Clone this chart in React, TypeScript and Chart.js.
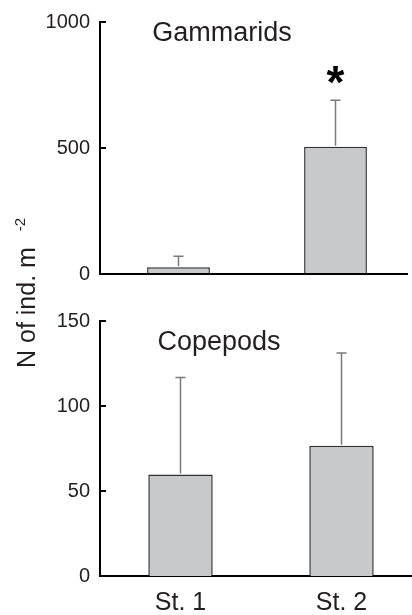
import React, { useEffect, useRef } from 'react';
import { Chart, registerables } from 'chart.js';

Chart.register(...registerables);

// ---------- data ----------
const stations = ['St. 1', 'St. 2'];

const gammaridMeans = [27, 505];
const gammaridErrors = [43, 184];
const gammaridMarks = ['', '*'];
const gammaridTicks = [0, 500, 1000];

const copepodMeans = [59.7, 76.6];
const copepodErrors = [57.1, 54.6];
const copepodMarks = ['', ''];
const copepodTicks = [0, 50, 100, 150];

const gammaridTitle = 'Gammarids';
const copepodTitle = 'Copepods';
const yTitleMain = 'N of ind. m';
const yTitleSup = '-2';

// ---------- styles ----------
const FONT = "'Liberation Sans', Arial, Helvetica, sans-serif";
const TEXT = '#231f20';
const BAR_FILL = '#c8c9cb';
const BAR_EDGE = '#303030';
const ERR = '#7a7a7a';

const decorPlugin = {
  id: 'panelDecor',
  afterDatasetsDraw(chart: any, _args: any, opts: any) {
    const ctx = chart.ctx as CanvasRenderingContext2D;
    const { left, top } = chart.chartArea;
    const ys = chart.scales.y;
    const meta = chart.getDatasetMeta(0);
    ctx.save();

    // zero baseline for panels without a visible x axis
    if (opts.baselineEnd) {
      const py = ys.getPixelForValue(0);
      ctx.strokeStyle = '#000';
      ctx.lineWidth = 2;
      ctx.beginPath();
      ctx.moveTo(left - 1, py);
      ctx.lineTo(opts.baselineEnd, py);
      ctx.stroke();
    }

    // inward tick marks
    ctx.strokeStyle = '#000';
    ctx.lineWidth = 2;
    (opts.ticks as number[]).forEach((v) => {
      if (v === 0) return;
      const py = ys.getPixelForValue(v);
      ctx.beginPath();
      ctx.moveTo(left - 1, py);
      ctx.lineTo(left + 6, py);
      ctx.stroke();
    });

    // error bars + significance marks
    meta.data.forEach((bar: any, i: number) => {
      const x = bar.x;
      const y0 = ys.getPixelForValue(opts.means[i]);
      const y1 = ys.getPixelForValue(opts.means[i] + opts.errors[i]);
      ctx.strokeStyle = ERR;
      ctx.lineWidth = 1.5;
      ctx.beginPath();
      ctx.moveTo(x, y0 - 1);
      ctx.lineTo(x, y1);
      ctx.moveTo(x - 5, y1);
      ctx.lineTo(x + 5, y1);
      ctx.stroke();
      const mark = opts.marks[i];
      if (mark) {
        ctx.fillStyle = '#000';
        ctx.font = `bold 46px ${FONT}`;
        ctx.textAlign = 'center';
        ctx.textBaseline = 'alphabetic';
        const m = ctx.measureText(mark);
        const glyphTop = y1 - 34;
        ctx.fillText(mark, x, glyphTop + m.actualBoundingBoxAscent);
      }
    });

    // panel title
    ctx.fillStyle = TEXT;
    ctx.font = `27px ${FONT}`;
    ctx.textAlign = 'center';
    ctx.textBaseline = 'alphabetic';
    ctx.fillText(opts.title, left + opts.titleX, top + opts.titleBaseline);

    // shared y title
    if (opts.yTitle) {
      ctx.translate(35, 368);
      ctx.rotate(-Math.PI / 2);
      ctx.textAlign = 'left';
      ctx.font = `25px ${FONT}`;
      ctx.fillText(yTitleMain, 0, 0);
      const w = ctx.measureText(yTitleMain).width;
      ctx.font = `15px ${FONT}`;
      ctx.fillText(yTitleSup, w + 16, -10);
    }
    ctx.restore();
  },
};

type PanelProps = {
  title: string;
  means: number[];
  errors: number[];
  marks: string[];
  ticks: number[];
  canvasWidth: number;
  padTop: number;
  padBottom: number;
  padRight: number;
  showX: boolean;
  titleX: number;
  titleBaseline: number;
  baselineEnd?: number;
  yTitle?: boolean;
};

function Panel(p: PanelProps) {
  const ref = useRef<HTMLCanvasElement | null>(null);
  useEffect(() => {
    if (!ref.current) return;
    const chart = new Chart(ref.current, {
      type: 'bar',
      data: {
        labels: stations,
        datasets: [
          {
            data: p.means,
            backgroundColor: BAR_FILL,
            borderColor: BAR_EDGE,
            borderWidth: 1.5,
            barPercentage: 0.4,
            categoryPercentage: 1,
          },
        ],
      },
      options: {
        responsive: false,
        animation: false,
        devicePixelRatio: 1,
        layout: { padding: { top: p.padTop, bottom: p.padBottom, left: 0, right: p.padRight } },
        plugins: {
          legend: { display: false },
          tooltip: { enabled: false },
          panelDecor: {
            means: p.means,
            errors: p.errors,
            marks: p.marks,
            ticks: p.ticks,
            title: p.title,
            titleX: p.titleX,
            titleBaseline: p.titleBaseline,
            baselineEnd: p.baselineEnd,
            yTitle: p.yTitle,
          },
        } as any,
        scales: {
          x: {
            display: p.showX,
            grid: { display: false, drawTicks: false },
            border: { display: true, color: '#000', width: 2 },
            ticks: {
              color: TEXT,
              font: { family: FONT, size: 25 },
              padding: 12,
              maxRotation: 0,
            },
            afterFit: (s: any) => {
              if (p.showX) s.height = 39;
            },
          },
          y: {
            min: p.ticks[0],
            max: p.ticks[p.ticks.length - 1],
            grid: { display: false, drawTicks: false },
            border: { display: true, color: '#000', width: 2 },
            ticks: {
              color: TEXT,
              font: { family: FONT, size: 20 },
              padding: 10,
              callback: (v: any) => String(v),
            },
            afterBuildTicks: (s: any) => {
              s.ticks = p.ticks.map((v) => ({ value: v }));
            },
            afterFit: (s: any) => {
              s.width = 100;
            },
          },
        },
      },
      plugins: [decorPlugin],
    });
    return () => chart.destroy();
  }, []);
  return (
    <canvas
      ref={ref}
      width={p.canvasWidth}
      height={615}
      style={{ position: 'absolute', left: 0, top: 0, display: 'block' }}
    />
  );
}

export default function App() {
  return (
    <div
      style={{
        position: 'absolute',
        left: 0,
        top: 0,
        width: 412,
        height: 615,
        overflow: 'hidden',
        background: '#fff',
      }}
    >
      <Panel
        title={gammaridTitle}
        means={gammaridMeans}
        errors={gammaridErrors}
        marks={gammaridMarks}
        ticks={gammaridTicks}
        canvasWidth={420}
        padTop={20}
        padBottom={341}
        padRight={6}
        showX={false}
        titleX={122}
        titleBaseline={19}
        baselineEnd={408}
        yTitle={true}
      />
      <Panel
        title={copepodTitle}
        means={copepodMeans}
        errors={copepodErrors}
        marks={copepodMarks}
        ticks={copepodTicks}
        canvasWidth={422}
        padTop={321}
        padBottom={0}
        padRight={0}
        showX={true}
        titleX={119}
        titleBaseline={29}
      />
    </div>
  );
}
